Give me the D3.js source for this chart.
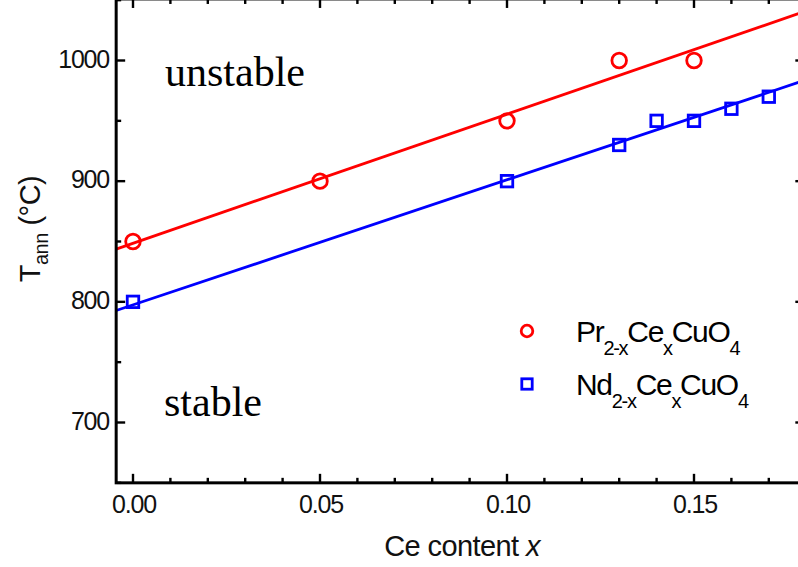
<!DOCTYPE html>
<html>
<head>
<meta charset="utf-8">
<script src="https://cdn.jsdelivr.net/npm/d3@7"></script>
<style>
  body { margin: 0; background: #fff; }
  svg { display: block; }
  .tick-label { font-family: "Liberation Sans", Arial, sans-serif; font-size: 25px; letter-spacing: -1.2px; fill: #111; }
  .region { font-family: "Liberation Serif", "Times New Roman", serif; font-size: 42px; fill: #000; }
  .legend-text { font-family: "Liberation Sans", Arial, sans-serif; font-size: 30px; letter-spacing: -1.3px; fill: #000; }
</style>
</head>
<body>
<svg width="798" height="567"></svg>
<script>
// measured points
var prX = [0.00, 0.05, 0.10, 0.13, 0.15];
var prT = [850, 900, 950, 1000, 1000];
var ndX = [0.00, 0.10, 0.13, 0.14, 0.15, 0.16, 0.17];
var ndT = [800, 900, 930, 950, 950, 960, 970];

// linear fits: [intercept, slope]
var prFit = [848.5, 1070];
var ndFit = [797.5, 1036];

var xTicks = [0.00, 0.05, 0.10, 0.15];
var xTickLabels = ["0.00", "0.05", "0.10", "0.15"];
var yTicks = [700, 800, 900, 1000];

var svg = d3.select("svg");

var xMin = -0.0045, xMax = 0.1795,
    yMin = 650, yMax = 1051;

var x = d3.scaleLinear().domain([0, 0.15]).range([133, 694]);
var y = d3.scaleLinear().domain([700, 1000]).range([422.5, 60.5]);

// careful: "top" is taken by window.top
var plotLeft = x(xMin), plotRight = x(xMax), plotTop = y(yMax), plotBottom = y(yMin);

var g = svg.append("g");

// fit lines
var line = d3.line()
    .x(function(d) { return x(d[0]); })
    .y(function(d) { return y(d[1]); });

function fitPoints(fit) {
  return [[xMin, fit[0] + fit[1] * xMin], [xMax, fit[0] + fit[1] * xMax]];
}

g.append("path")
    .attr("d", line(fitPoints(prFit)))
    .attr("fill", "none")
    .attr("stroke", "#ff0000")
    .attr("stroke-width", 2.8);

g.append("path")
    .attr("d", line(fitPoints(ndFit)))
    .attr("fill", "none")
    .attr("stroke", "#0000ff")
    .attr("stroke-width", 2.8);

// markers
g.selectAll(".pr")
  .data(d3.zip(prX, prT))
  .enter().append("circle")
    .attr("class", "pr")
    .attr("cx", function(d) { return x(d[0]); })
    .attr("cy", function(d) { return y(d[1]); })
    .attr("r", 7.3)
    .attr("fill", "none")
    .attr("stroke", "#ff0000")
    .attr("stroke-width", 2.8);

var sq = 11.5;
g.selectAll(".nd")
  .data(d3.zip(ndX, ndT))
  .enter().append("rect")
    .attr("class", "nd")
    .attr("x", function(d) { return x(d[0]) - sq / 2; })
    .attr("y", function(d) { return y(d[1]) - sq / 2; })
    .attr("width", sq)
    .attr("height", sq)
    .attr("fill", "none")
    .attr("stroke", "#0000ff")
    .attr("stroke-width", 2.8);

// frame with inward ticks on all four sides
var xMinor = d3.range(0, 18).map(function(i) { return i / 100; }).filter(function(v) { return v <= xMax; });
var yMinor = d3.range(650, 1051, 50);

function xTickLen(v) { return xTicks.some(function(t) { return Math.abs(t - v) < 1e-9; }) ? 9 : 5; }
function yTickLen(v) { return v % 100 === 0 ? 9 : 5; }

var frame = svg.append("g")
    .attr("stroke", "#000")
    .attr("stroke-width", 2.4);

frame.selectAll(".xb").data(xMinor).enter().append("line")
    .attr("x1", function(d) { return x(d); }).attr("x2", function(d) { return x(d); })
    .attr("y1", plotBottom).attr("y2", function(d) { return plotBottom - xTickLen(d); });
frame.selectAll(".xt").data(xMinor).enter().append("line")
    .attr("x1", function(d) { return x(d); }).attr("x2", function(d) { return x(d); })
    .attr("y1", plotTop).attr("y2", function(d) { return plotTop + xTickLen(d); });
frame.selectAll(".yl").data(yMinor).enter().append("line")
    .attr("y1", function(d) { return y(d); }).attr("y2", function(d) { return y(d); })
    .attr("x1", plotLeft).attr("x2", function(d) { return plotLeft + yTickLen(d); });
frame.selectAll(".yr").data(yMinor).enter().append("line")
    .attr("y1", function(d) { return y(d); }).attr("y2", function(d) { return y(d); })
    .attr("x1", plotRight).attr("x2", function(d) { return plotRight - yTickLen(d); });

svg.append("rect")
    .attr("x", plotLeft).attr("y", plotTop)
    .attr("width", plotRight - plotLeft).attr("height", plotBottom - plotTop)
    .attr("fill", "none")
    .attr("stroke", "#000")
    .attr("stroke-width", 3);

// tick labels
svg.selectAll(".xlab")
  .data(xTicks)
  .enter().append("text")
    .attr("class", "tick-label")
    .attr("x", function(d) { return x(d) + 1; })
    .attr("y", 513)
    .attr("text-anchor", "middle")
    .text(function(d, i) { return xTickLabels[i]; });

svg.selectAll(".ylab")
  .data(yTicks)
  .enter().append("text")
    .attr("class", "tick-label")
    .attr("x", 109)
    .attr("y", function(d) { return y(d) + 7; })
    .attr("text-anchor", "end")
    .text(function(d) { return d; });

// axis titles
var xTitle = svg.append("text")
    .attr("class", "tick-label")
    .attr("x", 462)
    .attr("y", 556)
    .attr("text-anchor", "middle")
    .style("font-size", "29px")
    .style("letter-spacing", "-0.6px");
xTitle.append("tspan").text("Ce content ");
xTitle.append("tspan").style("font-style", "italic").text("x");

var yTitle = svg.append("text")
    .attr("class", "tick-label")
    .attr("transform", "translate(40,229) rotate(-90)")
    .attr("text-anchor", "middle")
    .style("font-size", "29px")
    .style("letter-spacing", "-0.5px");
yTitle.append("tspan").text("T");
yTitle.append("tspan").attr("dy", 8).style("font-size", "20px").text("ann");
yTitle.append("tspan").attr("dy", -8).text(" (°C)");

// region labels
svg.append("text").attr("class", "region").attr("x", 165).attr("y", 86).text("unstable");
svg.append("text").attr("class", "region").attr("x", 164).attr("y", 416).text("stable");

// legend
var legendItems = [
  { name: "Pr", color: "#ff0000", shape: "circle" },
  { name: "Nd", color: "#0000ff", shape: "square" }
];

var legend = svg.selectAll(".legend")
  .data(legendItems)
  .enter().append("g")
    .attr("class", "legend")
    .attr("transform", function(d, i) { return "translate(527," + (331 + i * 53) + ")"; });

legend.filter(function(d) { return d.shape === "circle"; }).append("circle")
    .attr("r", 5.8)
    .attr("fill", "none")
    .attr("stroke", function(d) { return d.color; })
    .attr("stroke-width", 2.8);

legend.filter(function(d) { return d.shape === "square"; }).append("rect")
    .attr("x", -5.2).attr("y", -5.2)
    .attr("width", 10.4).attr("height", 10.4)
    .attr("fill", "none")
    .attr("stroke", function(d) { return d.color; })
    .attr("stroke-width", 2.8);

var lt = legend.append("text")
    .attr("class", "legend-text")
    .attr("x", 49)
    .attr("y", 11);

function sub(sel, s) { sel.append("tspan").attr("dy", 13).style("font-size", "20px").text(s); }
function main(sel, s) { sel.append("tspan").attr("dy", -13).text(s); }

lt.each(function(d) {
  var t = d3.select(this);
  t.append("tspan").text(d.name);
  sub(t, "2-x");
  main(t, "Ce");
  sub(t, "x");
  main(t, "CuO");
  sub(t, "4");
});
</script>
</body>
</html>
